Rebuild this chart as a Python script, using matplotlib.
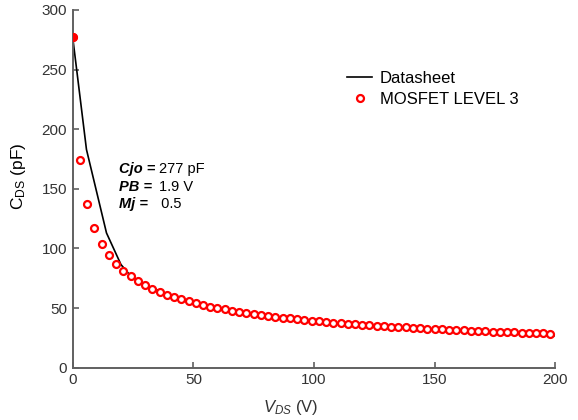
import matplotlib
matplotlib.use("Agg")
import matplotlib.pyplot as plt

plt.rcParams['font.family'] = ['Liberation Sans', 'DejaVu Sans']
plt.rcParams['mathtext.fontset'] = 'custom'
plt.rcParams['mathtext.rm'] = 'Liberation Sans'
plt.rcParams['mathtext.it'] = 'Liberation Sans:italic'
plt.rcParams['mathtext.bf'] = 'Liberation Sans:bold'

# Datasheet curve (V, pF)
ds_v = [0, 5.7, 14, 20, 24, 30, 40, 50, 60, 70, 80, 100, 125, 150, 175, 200]
ds_c = [277, 183, 113, 86.5, 77, 69.5, 61, 53.5, 49, 45.5, 43, 38.6, 34.5, 31.5, 29, 26.8]

# MOSFET LEVEL 3 model points (V, pF)
m3_v = list(range(0, 199, 3))
m3_c = [277, 174, 137.5, 117, 104, 94.5, 87, 81.3, 76.5, 72.5, 69, 66, 63.5, 61.2,
        59.1, 57.3, 55.6, 54, 52.6, 51.3, 50, 48.9, 47.8, 46.8, 45.9, 45, 44.2, 43.4,
        42.7, 42, 41.3, 40.7, 40.1, 39.5, 39, 38.4, 37.9, 37.4, 37, 36.5, 36.1, 35.7,
        35.3, 34.9, 34.5, 34.1, 33.8, 33.4, 33.1, 32.8, 32.5, 32.2, 31.9, 31.6, 31.3,
        31.1, 30.8, 30.5, 30.3, 30, 29.8, 29.6, 29.4, 29.1, 28.9, 28.7, 28.5]

x_ticks = [0, 50, 100, 150, 200]
y_ticks = [0, 50, 100, 150, 200, 250, 300]

fig = plt.figure(figsize=(5.78, 4.20), dpi=100)
ax = fig.add_axes([0.1258, 0.1245, 0.8349, 0.8517])

ax.plot(ds_v, ds_c, color='black', lw=1.2, label='Datasheet', zorder=2)
ax.plot(m3_v, m3_c, linestyle='none', marker='o', markersize=5,
        markerfacecolor='white', markeredgecolor='#ff0000', markeredgewidth=1.6,
        label='MOSFET LEVEL 3', zorder=3)
ax.plot(m3_v[:1], m3_c[:1], linestyle='none', marker='o', markersize=5.2,
        color='#ff0000', zorder=4)

ax.set_xlim(0, 200)
ax.set_ylim(0, 300)
ax.set_xticks(x_ticks)
ax.set_yticks(y_ticks)
for s in ['top', 'right']:
    ax.spines[s].set_visible(False)
for s in ['left', 'bottom']:
    ax.spines[s].set_color('#606060')
    ax.spines[s].set_linewidth(1.4)
ax.tick_params(direction='in', length=4, width=1.2, color='#606060',
               labelsize=11, labelcolor='#333333', pad=4)

ax.set_xlabel(r'$V_{DS}$ (V)', fontsize=12, color='#333333')
ax.xaxis.set_label_coords(0.452, -0.086)
ax.set_ylabel(r'C$_{\mathrm{DS}}$ (pF)', fontsize=12.5, color='black')
ax.yaxis.set_label_coords(-0.093, 0.536)

leg = ax.legend(loc='upper left', bbox_to_anchor=(0.555, 0.848), frameon=False,
                fontsize=12, handlelength=1.5, handletextpad=0.45,
                labelspacing=0.33, borderaxespad=0)

rows = [('Cjo =', '277 pF', 166.5), ('PB =', '1.9 V', 151.5), ('Mj =', ' 0.5', 137)]
for lab, val, yv in rows:
    ax.text(19, yv, lab, fontsize=10.5, fontweight='bold', fontstyle='italic',
            va='center', ha='left')
for lab, val, yv in rows:
    ax.text(35.8 if lab != 'Mj =' else 34.8, yv, val, fontsize=10.5, va='center', ha='left')

fig.savefig('out.png', dpi=100)
